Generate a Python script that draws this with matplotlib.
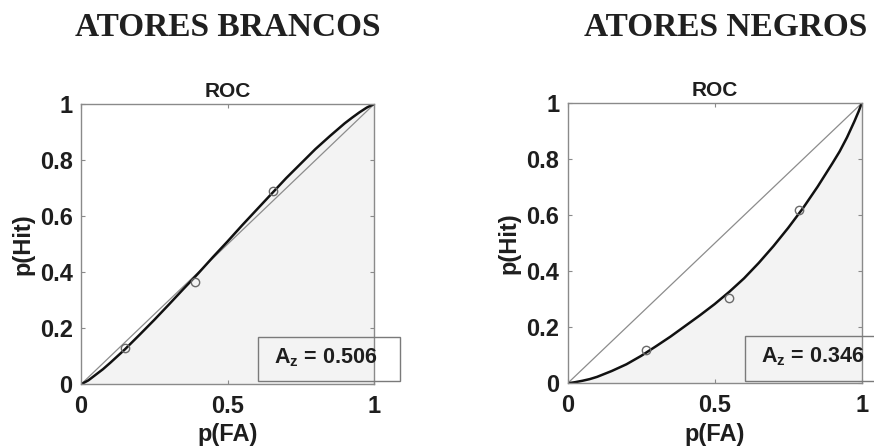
import matplotlib
matplotlib.use("Agg")
import matplotlib.pyplot as plt
from matplotlib.patches import Rectangle

# ---- data ----
headers = ["ATORES BRANCOS", "ATORES NEGROS"]
az_labels = ["0.506", "0.346"]

# observed points
white_fa = [0.15, 0.39, 0.655]
white_hit = [0.13, 0.365, 0.69]
black_fa = [0.266, 0.55, 0.788]
black_hit = [0.119, 0.304, 0.619]

# fitted ROC curves
curve_x = [0.0, 0.025, 0.05, 0.075, 0.1, 0.15, 0.2, 0.25, 0.3, 0.35, 0.4, 0.45, 0.5,
           0.55, 0.6, 0.65, 0.7, 0.75, 0.8, 0.85, 0.9, 0.925, 0.95, 0.975, 0.99, 1.0]
white_curve = [0.0, 0.014, 0.034, 0.054, 0.077, 0.125, 0.177, 0.23, 0.285, 0.341, 0.396, 0.454,
               0.51, 0.568, 0.624, 0.68, 0.736, 0.788, 0.84, 0.887, 0.932, 0.952, 0.971, 0.988, 0.996, 1.0]
black_curve = [0.0, 0.004, 0.009, 0.015, 0.023, 0.044, 0.068, 0.098, 0.132, 0.167, 0.205, 0.243,
               0.283, 0.327, 0.375, 0.43, 0.49, 0.555, 0.625, 0.702, 0.785, 0.828, 0.878, 0.935, 0.972, 1.0]

xticks = [0, 0.5, 1]
xticklabels = ["0", "0.5", "1"]
yticks = [0, 0.2, 0.4, 0.6, 0.8, 1]
yticklabels = ["0", "0.2", "0.4", "0.6", "0.8", "1"]

plt.rcParams['font.family'] = ['Liberation Sans', 'DejaVu Sans']
plt.rcParams['mathtext.fontset'] = 'custom'
plt.rcParams['mathtext.rm'] = 'Liberation Sans:bold'
plt.rcParams['mathtext.bf'] = 'Liberation Sans:bold'
plt.rcParams['mathtext.it'] = 'Liberation Sans:bold'

fig = plt.figure(figsize=(8.74, 4.48), dpi=100)
fig.patch.set_facecolor('white')

positions = [[0.0927, 0.1422, 0.3352, 0.625], [0.6495, 0.1444, 0.3364, 0.625]]
header_x = [228 / 874, 725.5 / 874]
datasets = [(white_fa, white_hit, white_curve), (black_fa, black_hit, black_curve)]
frame_col = '#8a8a8a'
text_col = '#1e1e1e'

for i in range(2):
    ax = fig.add_axes(positions[i])
    fa, hit, cur = datasets[i]
    ax.fill_between(curve_x, 0, cur, color='#f3f3f3', zorder=0, linewidth=0)
    ax.plot([0, 1], [0, 1], color='#8c8c8c', lw=0.9, zorder=1)
    ax.plot(curve_x, cur, color='#111111', lw=1.8, zorder=2, solid_capstyle='round',
            solid_joinstyle='round')
    ax.plot(fa, hit, linestyle='none', marker='o', markersize=6, markerfacecolor='none',
            markeredgecolor='#6a6a6a', markeredgewidth=1.0, zorder=3)
    ax.set_xlim(0, 1)
    ax.set_ylim(0, 1)
    ax.set_xticks(xticks)
    ax.set_xticklabels(xticklabels)
    ax.set_yticks(yticks)
    ax.set_yticklabels(yticklabels)
    ax.tick_params(direction='in', length=3, width=0.8, color=frame_col,
                   labelsize=17, colors=text_col, top=True, right=True)
    ax.tick_params(axis='x', pad=8)
    ax.tick_params(axis='y', pad=6)
    for lab in ax.get_xticklabels() + ax.get_yticklabels():
        lab.set_fontweight('bold')
    for s in ax.spines.values():
        s.set_color(frame_col)
        s.set_linewidth(1.0)
    ax.set_title("ROC", fontsize=15, fontweight='bold', color=text_col, pad=5)
    ax.set_xlabel("p(FA)", fontsize=17, fontweight='bold', color=text_col)
    ax.set_ylabel("p(Hit)", fontsize=17, fontweight='bold', color=text_col)
    ax.xaxis.set_label_coords(0.5, -0.14)
    ax.yaxis.set_label_coords(-0.16, 0.5)

    # Az box
    rect = Rectangle((0.604, 0.01), 0.485, 0.16, transform=ax.transAxes, fill=False,
                     edgecolor='#7a7a7a', linewidth=1.0, clip_on=False, zorder=4)
    ax.add_patch(rect)
    ax.text(0.835, 0.094, r"$\mathbf{A_z}$ = " + az_labels[i], transform=ax.transAxes,
            ha='center', va='center', fontsize=15.5, fontweight='bold', color=text_col,
            clip_on=False, zorder=5)

    fig.text(header_x[i], 1 - 28 / 448, headers[i], ha='center', va='center',
             fontsize=24, fontweight='bold', color='#202020', family='Liberation Serif')

fig.savefig("out.png", dpi=100, facecolor='white')
